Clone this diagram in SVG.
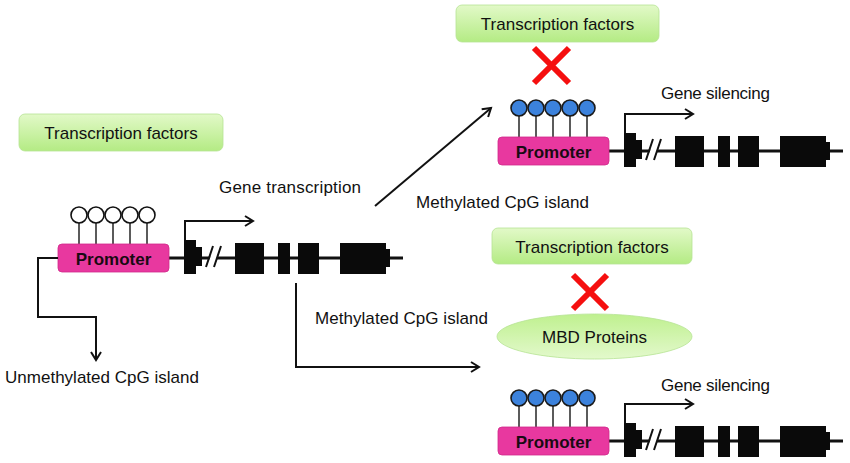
<svg xmlns="http://www.w3.org/2000/svg" width="850" height="463" viewBox="0 0 850 463">
<defs>
<linearGradient id="tfGrad" x1="0" y1="0" x2="0" y2="1">
<stop offset="0" stop-color="#e2f9c8"/>
<stop offset="1" stop-color="#b4eb84"/>
</linearGradient>
<linearGradient id="mbdGrad" x1="0" y1="0" x2="0" y2="1">
<stop offset="0" stop-color="#bff08f"/>
<stop offset="1" stop-color="#e3f9cc"/>
</linearGradient>
<marker id="arr" markerWidth="12" markerHeight="12" refX="9" refY="6" orient="auto" markerUnits="userSpaceOnUse">
<path d="M1,1 L9,6 L1,11" fill="none" stroke="#111" stroke-width="2"/>
</marker>
</defs>
<style>
text{font-family:"Liberation Sans",Arial,sans-serif;font-size:17px;fill:#111}
.mid{text-anchor:middle}
.tf{fill:url(#tfGrad);stroke:#b6e394;stroke-width:0.8}
.promoter{fill:#e8389f;stroke:#d02a8a;stroke-width:0.8}
.prom-text{font-weight:bold;text-anchor:middle;fill:#1a0a12}
.dna{stroke:#111;stroke-width:3;fill:none}
.exon{fill:#0a0a0a}
.stem{stroke:#333;stroke-width:1.6;fill:none}
.open{fill:#fff;stroke:#111;stroke-width:1.6}
.meth{fill:#3c82dc;stroke:#1a1a1a;stroke-width:1.6}
.slash{stroke:#111;stroke-width:2;fill:none}
.conn{stroke:#111;stroke-width:2;fill:none}
.cross{stroke:#f50f0f;stroke-width:6;fill:none}
</style>

<g id="tf-left">
<rect class="tf" x="19" y="114" width="204" height="37" rx="6"/>
<text class="mid" x="121" y="139">Transcription factors</text>
</g>

<g id="tf-top">
<rect class="tf" x="456" y="5" width="203" height="37" rx="6"/>
<text class="mid" x="557.5" y="30">Transcription factors</text>
</g>

<g id="tf-mid">
<rect class="tf" x="492" y="228" width="200" height="36" rx="6"/>
<text class="mid" x="592" y="252.5">Transcription factors</text>
</g>

<g id="mbd">
<ellipse cx="594.5" cy="336.5" rx="97.5" ry="22.5" fill="url(#mbdGrad)" stroke="#b6e394" stroke-width="0.8"/>
<text class="mid" x="594.5" y="343">MBD Proteins</text>
</g>

<g id="block-top">
<path class="cross" d="M534,48 L569,83 M569,48 L534,83"/>
</g>
<g id="block-mid">
<path class="cross" d="M573,275 L607,309 M607,275 L573,309"/>
</g>

<g id="gene-unmethylated" transform="translate(58,258)">
<line class="dna" x1="111" y1="0" x2="345" y2="0"/>
<path class="stem" d="M21,-35V-14 M38,-35V-14 M55,-35V-14 M72,-35V-14 M89,-35V-14"/>
<circle class="open" cx="21" cy="-43" r="8"/>
<circle class="open" cx="38" cy="-43" r="8"/>
<circle class="open" cx="55" cy="-43" r="8"/>
<circle class="open" cx="72" cy="-43" r="8"/>
<circle class="open" cx="89" cy="-43" r="8"/>
<rect class="promoter" x="0" y="-14" width="111" height="28" rx="4"/>
<text class="prom-text" x="55.5" y="6.5">Promoter</text>
<path class="exon" d="M126,-18 H138 V-11 H144 V8 H138 V16 H126 Z"/>
<polygon points="149,9 156,9 163,-12 156,-12" fill="#fff"/>
<path class="slash" d="M148,9 L155,-12 M156,9 L163,-12"/>
<rect class="exon" x="177" y="-15" width="29" height="31"/>
<rect class="exon" x="220" y="-15" width="12" height="31"/>
<rect class="exon" x="240" y="-15" width="21" height="31"/>
<rect class="exon" x="282" y="-15" width="46" height="31"/>
<rect class="exon" x="328" y="-9" width="4" height="18"/>
<path class="conn" d="M127,-18 V-37 H195" marker-end="url(#arr)"/>
</g>

<g id="gene-methylated-top" transform="translate(498,151)">
<line class="dna" x1="111" y1="0" x2="345" y2="0"/>
<path class="stem" d="M21,-35V-14 M38,-35V-14 M55,-35V-14 M72,-35V-14 M89,-35V-14"/>
<circle class="meth" cx="21" cy="-43" r="8"/>
<circle class="meth" cx="38" cy="-43" r="8"/>
<circle class="meth" cx="55" cy="-43" r="8"/>
<circle class="meth" cx="72" cy="-43" r="8"/>
<circle class="meth" cx="89" cy="-43" r="8"/>
<rect class="promoter" x="0" y="-14" width="111" height="28" rx="4"/>
<text class="prom-text" x="55.5" y="6.5">Promoter</text>
<path class="exon" d="M126,-18 H138 V-11 H144 V8 H138 V16 H126 Z"/>
<polygon points="149,9 156,9 163,-12 156,-12" fill="#fff"/>
<path class="slash" d="M148,9 L155,-12 M156,9 L163,-12"/>
<rect class="exon" x="177" y="-15" width="29" height="31"/>
<rect class="exon" x="220" y="-15" width="12" height="31"/>
<rect class="exon" x="240" y="-15" width="21" height="31"/>
<rect class="exon" x="282" y="-15" width="46" height="31"/>
<rect class="exon" x="328" y="-9" width="4" height="18"/>
<path class="conn" d="M127,-18 V-37 H195" marker-end="url(#arr)"/>
</g>

<g id="gene-methylated-bottom" transform="translate(498,441)">
<line class="dna" x1="111" y1="0" x2="345" y2="0"/>
<path class="stem" d="M21,-35V-14 M38,-35V-14 M55,-35V-14 M72,-35V-14 M89,-35V-14"/>
<circle class="meth" cx="21" cy="-43" r="8"/>
<circle class="meth" cx="38" cy="-43" r="8"/>
<circle class="meth" cx="55" cy="-43" r="8"/>
<circle class="meth" cx="72" cy="-43" r="8"/>
<circle class="meth" cx="89" cy="-43" r="8"/>
<rect class="promoter" x="0" y="-14" width="111" height="28" rx="4"/>
<text class="prom-text" x="55.5" y="6.5">Promoter</text>
<path class="exon" d="M126,-18 H138 V-11 H144 V8 H138 V16 H126 Z"/>
<polygon points="149,9 156,9 163,-12 156,-12" fill="#fff"/>
<path class="slash" d="M148,9 L155,-12 M156,9 L163,-12"/>
<rect class="exon" x="177" y="-15" width="29" height="31"/>
<rect class="exon" x="220" y="-15" width="12" height="31"/>
<rect class="exon" x="240" y="-15" width="21" height="31"/>
<rect class="exon" x="282" y="-15" width="46" height="31"/>
<rect class="exon" x="328" y="-9" width="4" height="18"/>
<path class="conn" d="M127,-18 V-37 H195" marker-end="url(#arr)"/>
</g>

<g id="connectors">
<path class="conn" d="M58,258 H38 V317 H96 V360" marker-end="url(#arr)"/>
<path class="conn" d="M375,206 L491,108" marker-end="url(#arr)"/>
<path class="conn" d="M296,283 V367 H479" marker-end="url(#arr)"/>
</g>

<g id="labels">
<text x="219" y="193" textLength="142" lengthAdjust="spacing">Gene transcription</text>
<text x="416" y="208" textLength="173" lengthAdjust="spacing">Methylated CpG island</text>
<text x="315" y="324" textLength="173" lengthAdjust="spacing">Methylated CpG island</text>
<text x="5" y="383" textLength="194" lengthAdjust="spacing">Unmethylated CpG island</text>
<text x="661" y="99" textLength="109" lengthAdjust="spacing">Gene silencing</text>
<text x="661" y="391" textLength="109" lengthAdjust="spacing">Gene silencing</text>
</g>
</svg>
